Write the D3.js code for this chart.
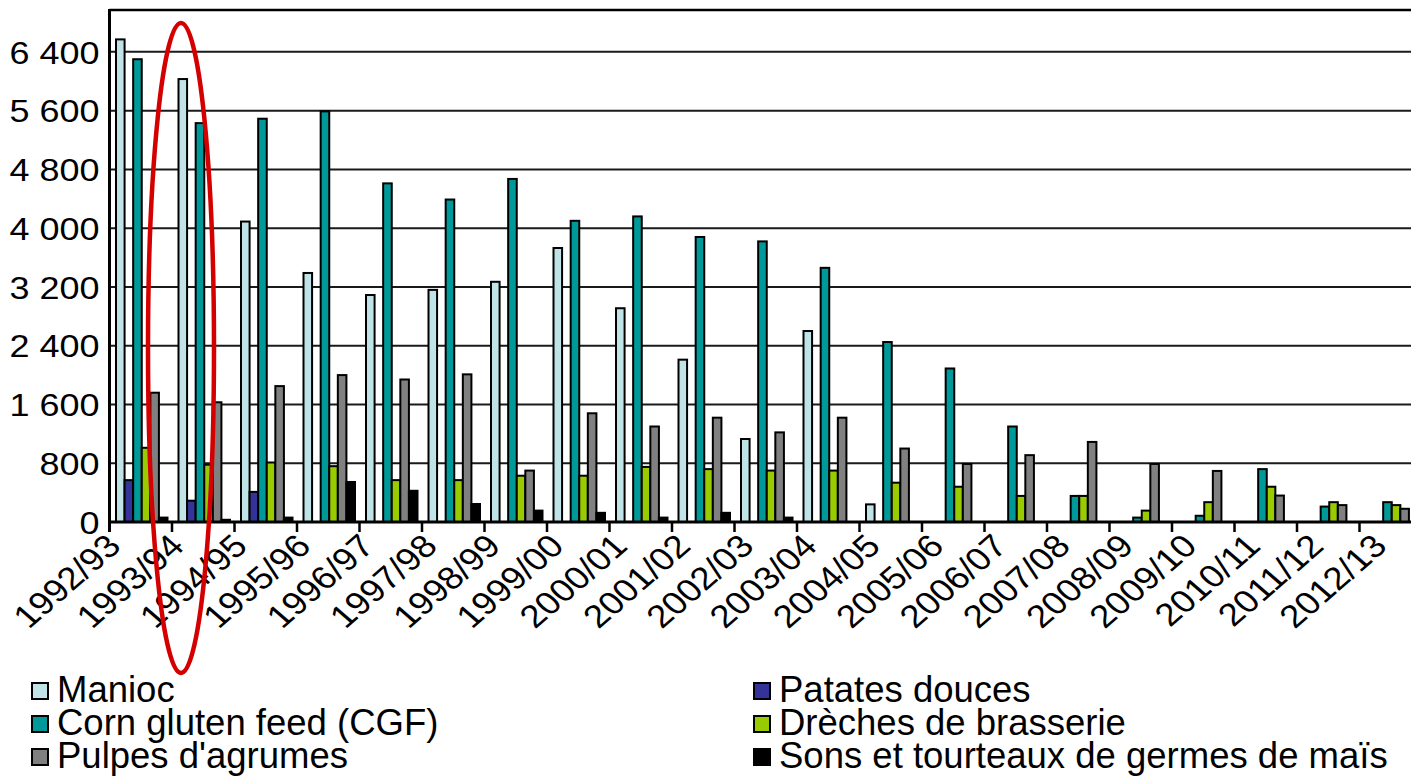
<!DOCTYPE html>
<html>
<head>
<meta charset="utf-8">
<script src="https://cdn.jsdelivr.net/npm/d3@7"></script>
<style>
  html, body { margin: 0; padding: 0; background: #fff; }
  svg { display: block; }
  text { font-family: "Liberation Sans", Arial, sans-serif; fill: #000; }
</style>
</head>
<body>
<svg id="chart" width="1411" height="776"></svg>
<script>
// ---------- data ----------
const categories = ["1992/93","1993/94","1994/95","1995/96","1996/97","1997/98","1998/99","1999/00","2000/01","2001/02","2002/03","2003/04","2004/05","2005/06","2006/07","2007/08","2008/09","2009/10","2010/11","2011/12","2012/13"];
const seriesNames = ["Manioc","Patates douces","Corn gluten feed (CGF)","Drèches de brasserie","Pulpes d'agrumes","Sons et tourteaux de germes de maïs"];
const seriesColors = ["#bfe3e6","#333399","#009999","#99cc00","#808080","#000000"];
const manioc  = [6570,6030,4090,3390,3090,3160,3270,3730,2910,2210,1130,2600,240,0,0,0,0,0,0,0,0];
const patates = [570,290,410,0,0,0,0,0,0,0,0,0,0,0,0,0,0,0,0,0,0];
const cgf     = [6300,5430,5490,5590,4610,4390,4670,4100,4160,3880,3820,3460,2450,2090,1300,355,60,85,720,210,270];
const dreches = [1010,780,810,760,570,570,630,630,750,720,700,700,535,480,355,355,155,270,480,270,230];
const pulpes  = [1760,1630,1850,2000,1940,2010,700,1480,1300,1420,1220,1420,1000,790,910,1090,790,695,360,230,180];
const sons    = [60,30,60,545,425,245,155,125,60,125,60,0,0,0,0,0,0,0,0,0,0];
const yTicks  = [0,800,1600,2400,3200,4000,4800,5600,6400];
const yTickLabels = ["0","800","1 600","2 400","3 200","4 000","4 800","5 600","6 400"];
const seriesValues = [manioc, patates, cgf, dreches, pulpes, sons];

// ---------- layout ----------
const svg = d3.select("#chart");
const plotLeft = 109.5, step = 62.5;
const x0 = d3.scaleBand().domain(categories).range([plotLeft, plotLeft + step*categories.length]).padding(0);
const x1 = d3.scaleBand().domain(seriesNames).range([6.5, 58]).padding(0);
const y = d3.scaleLinear().domain([0, 6970]).range([522, 10]);

// gridlines
svg.append("g").selectAll("line").data(yTicks.filter(d => d > 0)).join("line")
  .attr("x1", plotLeft).attr("x2", 1411)
  .attr("y1", d => y(d)).attr("y2", d => y(d))
  .attr("stroke", "#1a1a1a").attr("stroke-width", 2);

// top border
svg.append("line").attr("x1", plotLeft).attr("x2", 1411).attr("y1", y(6970)).attr("y2", y(6970))
  .attr("stroke", "#000").attr("stroke-width", 2.5);

// bars
const groups = svg.append("g").selectAll("g").data(categories).join("g")
  .attr("transform", d => `translate(${x0(d)},0)`);
groups.selectAll("rect")
  .data((c, i) => seriesNames.map((s, k) => ({ s, k, v: seriesValues[k][i] })).filter(d => d.v > 0))
  .join("rect")
  .attr("x", d => x1(d.s))
  .attr("width", x1.bandwidth())
  .attr("y", d => y(d.v))
  .attr("height", d => y(0) - y(d.v))
  .attr("fill", d => seriesColors[d.k])
  .attr("stroke", "#000").attr("stroke-width", 2);

// y axis
const yAxis = d3.axisLeft(y).tickValues(yTicks).tickFormat((d, i) => yTickLabels[i]).tickSize(0);
const gy = svg.append("g").attr("transform", `translate(${plotLeft},0)`).call(yAxis);
gy.select(".domain").remove();
gy.selectAll("text").attr("font-size", 31).attr("font-family", "Liberation Sans, Arial, sans-serif")
  .attr("dy", "0.36em").attr("x", 0)
  .attr("transform", "translate(-10,0) scale(1.16,1)");
svg.append("line").attr("x1", plotLeft).attr("x2", plotLeft).attr("y1", y(6970) - 1).attr("y2", 532)
  .attr("stroke", "#000").attr("stroke-width", 3);

// x axis
svg.append("line").attr("x1", plotLeft).attr("x2", 1411).attr("y1", y(0)).attr("y2", y(0))
  .attr("stroke", "#000").attr("stroke-width", 3);
svg.append("g").selectAll("line").data(categories).join("line")
  .attr("x1", d => x0(d) + x0.bandwidth()).attr("x2", d => x0(d) + x0.bandwidth())
  .attr("y1", y(0)).attr("y2", y(0) + 10)
  .attr("stroke", "#000").attr("stroke-width", 2.5);
svg.append("g").selectAll("text").data(categories).join("text")
  .attr("transform", (d, i) => `translate(${x0(d) + x0.bandwidth()/2 - 18 + i*0.8},${y(0) + 26}) scale(1.15,1) rotate(-45)`)
  .attr("text-anchor", "end")
  .attr("font-size", 32)
  .text(d => d);

// legend
const legendItems = seriesNames.map((s, k) => ({ s, k }));
const legend = svg.append("g").selectAll("g").data(legendItems).join("g")
  .attr("transform", d => {
    const col = d.k % 2, row = Math.floor(d.k / 2);
    return `translate(${col === 0 ? 57 : 779},${702 + row*33})`;
  });
legend.append("rect").attr("x", -25).attr("y", -19).attr("width", 16).attr("height", 16)
  .attr("fill", d => seriesColors[d.k]).attr("stroke", "#000").attr("stroke-width", 2);
legend.append("text").attr("x", 0).attr("y", 0).attr("font-size", 36.5).text(d => d.s);

// annotation ellipse
svg.append("ellipse").attr("cx", 181).attr("cy", 348).attr("rx", 33).attr("ry", 325)
  .attr("fill", "none").attr("stroke", "#d40000").attr("stroke-width", 4.5);
</script>
</body>
</html>
